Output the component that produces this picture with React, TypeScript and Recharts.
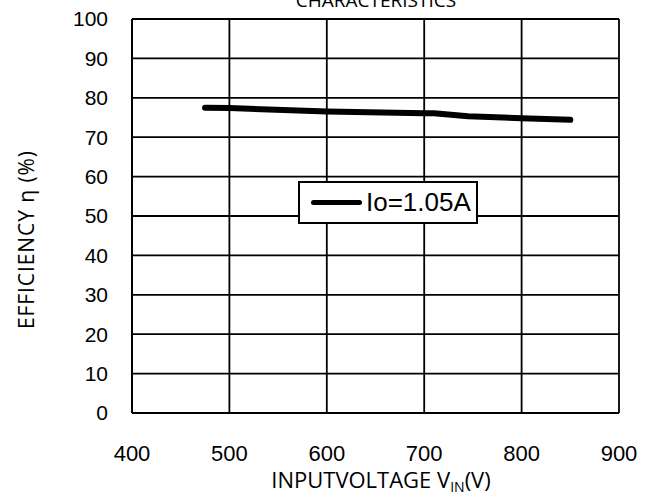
import { LineChart, Line, XAxis, YAxis, CartesianGrid, Legend } from 'recharts'

const voltage = [475, 500, 600, 700, 710, 745, 800, 850]
const efficiency = [77.5, 77.4, 76.5, 76.1, 76.1, 75.3, 74.8, 74.4]
const xTicks = [400, 500, 600, 700, 800, 900]
const yTicks = [0, 10, 20, 30, 40, 50, 60, 70, 80, 90, 100]
const seriesName = 'Io=1.05A'

const data = voltage.map((v, i) => ({ v, eff: efficiency[i] }))

const ARIAL = '"Liberation Sans", Arial, sans-serif'
const TITLE_FONT = '"Open Sans", sans-serif'

function Titles() {
  return (
    <g>
      <text x={376} y={7} textAnchor="middle" fontFamily={TITLE_FONT} fontSize={19} fill="#000">
        CHARACTERISTICS
      </text>
      <text x={381} y={488} textAnchor="middle" fontFamily={TITLE_FONT} fontSize={22} fill="#000">
        INPUTVOLTAGE V
        <tspan fontSize={14} dy={4}>IN</tspan>
        <tspan fontSize={22} dy={-4}>(V)</tspan>
      </text>
      <text
        transform="rotate(-90)"
        x={-240}
        y={34}
        textAnchor="middle"
        fontFamily={TITLE_FONT}
        fontSize={21}
        textLength={178}
        lengthAdjust="spacing"
        fill="#000"
      >
        EFFICIENCY η (%)
      </text>
    </g>
  )
}

function LegendBox() {
  return (
    <div
      style={{
        boxSizing: 'border-box',
        width: 180,
        height: 43,
        border: '2px solid #000',
        background: '#fff',
        display: 'flex',
        alignItems: 'center',
        paddingLeft: 11,
      }}
    >
      <span style={{ display: 'inline-block', width: 51, height: 5, background: '#000', borderRadius: 3 }} />
      <span style={{ fontFamily: ARIAL, fontSize: 26, color: '#000', marginLeft: 4 }}>{seriesName}</span>
    </div>
  )
}

export default function App() {
  return (
    <div style={{ position: 'absolute', left: 0, top: 0, background: '#fff' }}>
      <LineChart width={649} height={497} data={data} margin={{ top: 19, right: 30, bottom: 0, left: 32 }}>
        <CartesianGrid stroke="#000" strokeWidth={1.8} />
        <XAxis
          type="number"
          dataKey="v"
          domain={[400, 900]}
          ticks={xTicks}
          height={84}
          axisLine={{ stroke: '#000', strokeWidth: 2 }}
          tickLine={false}
          tickSize={0}
          tickMargin={32}
          tick={{ fill: '#000', fontSize: 22, fontFamily: ARIAL }}
          label={{ content: () => <Titles /> }}
        />
        <YAxis
          type="number"
          domain={[0, 100]}
          ticks={yTicks}
          width={100}
          axisLine={{ stroke: '#000', strokeWidth: 2 }}
          tickLine={false}
          tickSize={0}
          tickMargin={24}
          tick={{ fill: '#000', fontSize: 21, fontFamily: ARIAL }}
        />
        <Legend
          layout="horizontal"
          verticalAlign="middle"
          align="center"
          wrapperStyle={{ left: 298, top: 181, width: 180 }}
          content={() => <LegendBox />}
        />
        <Line
          type="linear"
          dataKey="eff"
          name={seriesName}
          stroke="#000"
          strokeWidth={6}
          strokeLinecap="round"
          strokeLinejoin="round"
          dot={false}
          isAnimationActive={false}
        />
      </LineChart>
    </div>
  )
}
